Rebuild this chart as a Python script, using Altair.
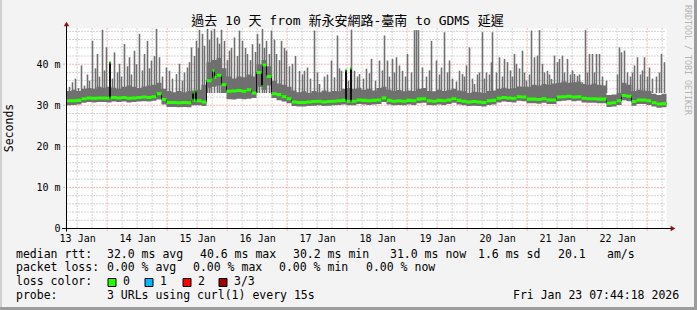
import json
import altair as alt
import pandas as pd

FONT = "DejaVu Sans Mono"
TITLE_FONT = "DejaVu Sans Mono, Noto Sans CJK TC, sans-serif"

TITLE = "過去 10 天 from 新永安網路-臺南 to GDMS 延遲"
DAY_LABELS = ["13 Jan", "14 Jan", "15 Jan", "16 Jan", "17 Jan",
              "18 Jan", "19 Jan", "20 Jan", "21 Jan", "22 Jan"]
Y_TICKS = [0, 10, 20, 30, 40]
FIRST_NOON_H = 4.2617          # hours from 13 Jan 07:44:18 to 13 Jan 12:00
SPAN_H = 240
Y_MAX = 48.7

# median RTT (ms), one value every 2 hours from the start
MEDIAN = [31.1, 31.1, 31.2, 31.6, 31.8, 31.7, 31.8, 31.8, 31.7, 31.9,
          31.8, 31.9, 31.7, 31.8, 31.9, 32.0, 31.9, 32.1, 32.8, 31.4,
          30.7, 30.7, 30.6, 30.7, 30.6, 31.3, 31.1, 30.8, 36.0, 36.4,
          37.3, 35.0, 33.4, 33.5, 33.6, 33.4, 33.8, 33.0, 38.0, 34.6,
          37.0, 32.8, 32.6, 32.1, 31.6, 30.8, 30.7, 30.7, 30.8, 30.9,
          31.0, 30.8, 30.9, 31.0, 31.1, 31.2, 31.0, 31.0, 31.3, 31.2,
          31.1, 31.2, 31.3, 31.8, 31.2, 31.0, 31.1, 31.0, 31.2, 31.1,
          31.5, 31.6, 31.1, 31.0, 31.2, 31.1, 31.3, 31.6, 31.2, 31.0,
          30.8, 30.9, 30.8, 30.7, 31.1, 31.2, 31.7, 31.9, 31.8, 31.7,
          32.1, 32.0, 31.5, 31.5, 31.4, 31.6, 31.3, 31.3, 32.0, 32.1,
          32.2, 32.0, 32.1, 31.7, 31.6, 31.6, 31.5, 31.5, 30.5, 30.6,
          31.1, 32.4, 32.2, 30.9, 31.3, 31.3, 31.1, 30.6, 30.3, 30.4]
# short median excursions (hour, ms)
MED_EXTRA_H = [17.2, 17.6, 50.4, 50.8, 51.6, 58.4, 59.2, 78.4, 111.6, 113.6]
MED_EXTRA_V = [40.5, 31.8, 33.2, 31.2, 33.5, 38.4, 36.8, 39.8, 38.6, 39.0]

# smoke body (ms), same 2-hour steps
LO = [30.0, 30.1, 30.2, 30.6, 30.8, 30.7, 30.8, 30.8, 30.7, 30.9,
      30.8, 30.9, 30.7, 30.8, 30.9, 31.0, 30.9, 31.1, 31.4, 30.2,
      29.6, 29.6, 29.5, 29.6, 29.5, 30.0, 30.0, 29.8, 34.3, 34.5,
      34.8, 33.0, 31.5, 31.4, 31.6, 31.5, 31.6, 31.8, 34.5, 33.8,
      34.8, 31.8, 31.2, 30.9, 30.5, 29.8, 29.7, 29.7, 29.8, 29.9,
      30.0, 29.8, 29.9, 30.0, 30.1, 30.2, 30.0, 30.0, 30.3, 30.2,
      30.1, 30.2, 30.3, 30.8, 30.2, 30.0, 30.1, 30.0, 30.2, 30.1,
      30.5, 30.6, 30.1, 30.0, 30.2, 30.1, 30.3, 30.6, 30.2, 30.0,
      29.8, 29.9, 29.8, 29.7, 30.1, 30.2, 30.7, 30.9, 30.8, 30.7,
      31.1, 31.0, 30.5, 30.5, 30.4, 30.6, 30.3, 30.3, 31.0, 31.1,
      31.2, 31.0, 31.1, 30.7, 30.6, 30.6, 30.5, 30.5, 29.6, 29.7,
      30.1, 31.2, 31.0, 29.9, 30.3, 30.3, 30.1, 29.7, 29.4, 29.5]
HI = [33.5, 33.8, 33.5, 34.0, 34.2, 34.0, 34.5, 34.3, 34.5, 34.3,
      34.0, 34.5, 34.8, 34.5, 34.2, 34.6, 34.8, 35.0, 35.5, 34.0,
      33.5, 33.2, 33.5, 33.2, 33.5, 33.6, 33.8, 35.0, 40.5, 41.0,
      41.5, 39.0, 37.0, 36.5, 37.0, 36.8, 37.5, 37.0, 40.0, 41.0,
      39.5, 36.0, 35.3, 35.0, 34.5, 33.6, 33.2, 33.4, 33.0, 33.5,
      33.2, 33.6, 33.3, 33.5, 33.4, 34.0, 34.2, 34.0, 34.3, 33.8,
      34.0, 33.6, 34.2, 34.5, 33.8, 33.5, 33.7, 33.4, 33.6, 33.5,
      34.0, 34.2, 33.5, 33.4, 33.8, 33.5, 33.7, 34.0, 33.6, 33.4,
      33.0, 33.3, 33.2, 33.0, 33.5, 33.6, 34.0, 34.3, 34.0, 34.2,
      34.6, 34.5, 34.5, 35.0, 34.8, 35.2, 35.0, 35.3, 35.5, 35.8,
      35.5, 35.6, 35.8, 35.2, 35.0, 35.3, 35.0, 34.8, 32.5, 32.6,
      33.0, 35.5, 35.0, 33.5, 33.8, 33.6, 33.5, 32.8, 32.5, 32.8]

# tall smoke spikes (hour, top ms)
SPIKE_H = [2.4, 6.0, 7.2, 10.4, 12.4, 14.4, 16.0, 19.2, 21.2, 23.2, 25.2, 27.2,
           29.2, 31.2, 32.4, 34.0, 36.0, 37.2, 40.0, 41.2, 44.0, 45.2, 48.4, 50.0,
           52.0, 53.2, 54.4, 56.4, 58.0, 59.2, 60.4, 62.0, 63.2, 65.2, 67.2, 69.2,
           70.4, 72.4, 74.4, 76.4, 78.4, 80.0, 82.0, 84.0, 86.0, 88.0, 90.4, 93.2,
           95.2, 96.4, 99.2, 101.2, 103.2, 106.0, 108.4, 110.0, 114.0, 115.2, 117.2,
           120.0, 122.0, 125.2, 127.2, 128.4, 130.4, 132.0, 133.2, 134.4, 136.4,
           139.2, 140.0, 140.8, 142.4, 146.0, 148.0, 150.0, 151.2, 153.2, 156.0,
           157.2, 158.4, 160.0, 161.2, 163.2, 166.4, 168.0, 170.0, 170.4, 173.2,
           175.2, 176.4, 179.2, 180.0, 182.4, 184.0, 186.0, 187.2, 188.4, 189.2,
           190.4, 192.4, 194.0, 195.2, 196.4, 197.2, 198.4, 200.4, 203.2, 204.4,
           206.4, 207.6, 209.2, 210.4, 212.0, 213.2, 221.2, 222.0, 223.2, 224.4,
           227.2, 228.4, 231.2, 233.2, 238.0, 239.2]
SPIKE_TOP = [35.6, 39.7, 34.8, 45.7, 42.5, 48.4, 44.1, 42.9, 40.1, 44.9, 41.7, 43.3,
             47.4, 42.5, 45.7, 40.9, 48.6, 41.7, 39.2, 38.4, 37.6, 40.1, 39.2, 44.1,
             45.7, 48.4, 47.4, 48.6, 48.2, 48.6, 46.5, 48.4, 45.7, 43.3, 46.5, 48.2,
             45.7, 42.5, 44.9, 47.4, 48.6, 45.7, 48.2, 42.5, 45.7, 43.3, 40.1, 38.4,
             38.4, 39.2, 48.2, 35.2, 37.0, 40.9, 47.0, 38.4, 48.4, 38.4, 37.6,
             38.9, 41.3, 40.9, 47.0, 40.9, 41.3, 41.7, 39.7, 38.4, 42.5,
             48.3, 48.3, 48.3, 39.2, 45.7, 40.9, 39.2, 47.8, 40.9, 35.8,
             38.4, 37.6, 39.7, 44.1, 35.2, 47.8, 38.0, 40.5, 47.8, 41.7,
             41.3, 40.5, 42.5, 40.1, 43.3, 36.0, 48.2, 41.7, 42.1, 48.3,
             40.1, 38.4, 36.4, 42.1, 40.5, 41.3, 42.1, 41.3, 37.6, 37.2,
             35.6, 48.3, 42.5, 42.5, 42.5, 42.5, 44.1, 42.9, 43.3, 38.0,
             39.7, 41.7, 41.7, 39.2, 42.5, 40.5]
# shorter smoke spikes between the tall ones (hour, top ms)
SPIKE2_H = [1.2, 3.6, 4.8, 8.4, 9.2, 11.6, 13.2, 15.2, 18.4, 20.4, 22.0, 24.4,
            26.0, 28.0, 30.4, 33.2, 35.2, 38.4, 42.4, 46.4, 47.2, 49.2, 51.2, 52.8,
            55.2, 57.2, 61.2, 64.4, 66.0, 68.4, 71.6, 73.6, 75.6, 77.2, 79.2, 81.2,
            83.2, 85.2, 87.2, 89.2, 91.6, 94.4, 97.6, 100.4, 104.4, 107.2, 109.2,
            112.8, 116.4, 118.8, 121.2, 123.6, 126.4, 129.2, 131.2, 135.6, 138.0,
            144.0, 145.2, 149.2, 152.4, 154.4, 159.2, 162.4, 164.4, 165.2, 167.2,
            169.2, 172.0, 174.4, 177.6, 178.4, 181.2, 183.2, 185.2, 191.2, 193.2,
            199.2, 201.6, 202.4, 205.2, 208.4, 211.2, 214.4, 216.0, 220.4, 225.6,
            226.4, 229.6, 230.4, 232.4, 234.4, 236.0, 237.2]
SPIKE2_TOP = [34.5, 36.5, 34.2, 37.5, 36.0, 39.0, 37.0, 38.5, 36.5, 38.0, 37.0, 39.5,
              37.5, 40.0, 38.5, 39.0, 42.0, 37.0, 36.5, 36.0, 38.0, 40.5, 42.0, 44.0,
              44.5, 46.0, 45.0, 41.0, 44.0, 42.0, 44.0, 41.0, 43.0, 45.0, 44.0, 42.5,
              46.0, 41.0, 44.0, 39.5, 42.0, 37.5, 36.5, 38.0, 37.5, 36.8, 39.0,
              36.0, 37.0, 36.5, 37.8, 36.0, 38.5, 37.0, 38.0, 37.0, 38.0,
              37.0, 38.5, 37.5, 38.0, 36.5, 37.0, 36.5, 37.5, 38.0, 36.5,
              37.5, 38.0, 37.0, 38.5, 37.0, 39.0, 38.0, 37.5, 38.0, 37.5,
              38.0, 37.5, 38.5, 37.5, 38.0, 38.0, 37.0, 36.0, 37.5, 37.0,
              38.0, 37.5, 38.5, 37.0, 36.5, 37.0, 38.0]

STAT_LINE1 = ["median rtt:", "32.0 ms avg", "40.6 ms max", "30.2 ms min",
              "31.0 ms now", "1.6 ms sd", "20.1", "am/s"]
STAT_LINE2 = ["packet loss:", "0.00 % avg", "0.00 % max", "0.00 % min", "0.00 % now"]
LOSS_NAMES = ["0", "1", "2", "3/3"]
LOSS_COLORS = ["#26ff00", "#00b8ff", "#ff0000", "#a00000"]
PROBE_TEXT = "3 URLs using curl(1) every 15s"
STAMP = "Fri Jan 23 07:44:18 2026"

# ---------------------------------------------------------------- layout
W, H = 600, 200
PAD_L, PAD_T = 66.5, 28.5


def px(a):
    return a - PAD_L


def py(a):
    return a - PAD_T


sample_h = [2 * i for i in range(len(MEDIAN))]
smoke = pd.DataFrame({"h": sample_h + [SPAN_H], "lo": LO + [LO[-1]], "hi": HI + [HI[-1]]})
pts = sorted(list(zip(sample_h, MEDIAN)) + list(zip(MED_EXTRA_H, MED_EXTRA_V))
             + [(SPAN_H, MEDIAN[-1])])
med = pd.DataFrame(pts, columns=["h", "m"])
spikes = pd.DataFrame({"h": SPIKE_H + SPIKE2_H, "top": SPIKE_TOP + SPIKE2_TOP})
spikes["base"] = 33.0

noons = [FIRST_NOON_H + 24 * k for k in range(10)]
minor_v = [FIRST_NOON_H + 6 * k for k in range(40) if k % 4 != 2]
major_v = [FIRST_NOON_H + 6 * k for k in range(40) if k % 4 == 2]
grid_v = pd.DataFrame({"h": [v for v in minor_v if v <= SPAN_H]})
grid_vm = pd.DataFrame({"h": [v for v in major_v if v <= SPAN_H]})
grid_h = pd.DataFrame({"y": [v for v in range(2, 49, 2) if v % 10 != 0]})
grid_hm = pd.DataFrame({"y": [10, 20, 30, 40]})

xs = alt.Scale(domain=[0, SPAN_H], nice=False, zero=False)
ys = alt.Scale(domain=[0, Y_MAX], nice=False, zero=False)
label_expr = "%s[round((datum.value - %s) / 24)]" % (json.dumps(DAY_LABELS), FIRST_NOON_H)
AX = alt.Axis(values=noons, labelExpr=label_expr, grid=False, ticks=False, domain=False,
              labelFont=FONT, labelFontSize=10, labelColor="#000", labelPadding=9.5,
              labelBaseline="middle", labelAngle=0, labelFlush=False, labelOverlap=False,
              title=None)
AY = alt.Axis(values=Y_TICKS, labelExpr="datum.value == 0 ? '0' : datum.value + ' m'",
              grid=False, ticks=False, domain=False, labelFont=FONT, labelFontSize=10,
              labelColor="#000", labelPadding=6.5, labelFlush=False, labelOverlap=False,
              title=None)


def X(f):
    return alt.X(f, scale=xs, axis=AX)


def Y(f):
    return alt.Y(f, scale=ys, axis=AY)


GRID_MINOR = "#a8a8a8"
GRID_MAJOR = "#f07070"
SMOKE = "#707070"

layers = []
layers.append(alt.Chart(grid_v).mark_rule(color=GRID_MINOR, strokeDash=[1, 2], strokeWidth=1)
              .encode(x=X("h:Q"), y=alt.value(0), y2=alt.value(H)))
layers.append(alt.Chart(grid_h).mark_rule(color=GRID_MINOR, strokeDash=[1, 2], strokeWidth=1)
              .encode(y=Y("y:Q"), x=alt.value(0), x2=alt.value(W)))
layers.append(alt.Chart(grid_vm).mark_rule(color=GRID_MAJOR, strokeDash=[1, 2], strokeWidth=1)
              .encode(x=X("h:Q"), y=alt.value(0), y2=alt.value(H + 3)))
layers.append(alt.Chart(grid_hm).mark_rule(color=GRID_MAJOR, strokeDash=[1, 2], strokeWidth=1)
              .encode(y=Y("y:Q"), x=alt.value(-3), x2=alt.value(W)))

layers.append(alt.Chart(smoke).mark_area(color=SMOKE, interpolate="step-after", opacity=1)
              .encode(x=X("h:Q"), y=Y("lo:Q"), y2="hi:Q"))
layers.append(alt.Chart(spikes).mark_rule(color=SMOKE, strokeWidth=1.6)
              .encode(x=X("h:Q"), y=Y("top:Q"), y2="base:Q"))
layers.append(alt.Chart(med).mark_line(color="#101010", strokeWidth=1, interpolate="step-after")
              .encode(x=X("h:Q"), y=Y("m:Q")))
layers.append(alt.Chart(med).transform_calculate(a="datum.m - 0.37", b="datum.m + 0.37")
              .mark_area(color="#26ff00", interpolate="step-after", opacity=1)
              .encode(x=X("h:Q"), y=Y("a:Q"), y2="b:Q"))

# axes lines and arrows
one = pd.DataFrame({"k": [0]})
layers.append(alt.Chart(one).mark_rule(color="#000", strokeWidth=1)
              .encode(x=alt.value(px(62)), x2=alt.value(px(672)), y=alt.value(H)))
layers.append(alt.Chart(one).mark_rule(color="#000", strokeWidth=1)
              .encode(x=alt.value(0), y=alt.value(-4), y2=alt.value(H + 3)))
layers.append(alt.Chart(one).mark_point(shape="triangle-right", filled=True, color="#8b1010",
                                         size=30, opacity=1)
              .encode(x=alt.value(px(673)), y=alt.value(H)))
layers.append(alt.Chart(one).mark_point(shape="triangle-up", filled=True, color="#8b1010",
                                         size=30, opacity=1)
              .encode(x=alt.value(0), y=alt.value(py(24))))


def txt(s, ax, ay, size=11.5, align="left", baseline="middle", angle=0, color="#000", font=FONT):
    return (alt.Chart(one)
            .mark_text(text=s, align=align, baseline=baseline, fontSize=size, font=font,
                       color=color, angle=angle)
            .encode(x=alt.value(px(ax)), y=alt.value(py(ay))))


layers.append(txt(TITLE, 347.5, 21, size=13, align="center", font=TITLE_FONT))
layers.append(txt("Seconds", 10, 128, size=11.5, align="center", angle=270))
layers.append(txt("RRDTOOL / TOBI OETIKER", 687, 5, size=8.3, align="left", angle=90,
                  color="#b4b4b4"))

for s, x in zip(STAT_LINE1, [16, 107, 200, 293, 390, 478, 558, 607]):
    layers.append(txt(s, x, 254.7))
for s, x in zip(STAT_LINE2, [16, 107, 193, 279, 366]):
    layers.append(txt(s, x, 268))
layers.append(txt("loss color:", 16, 282.3))
for name, col, sx, lx in zip(LOSS_NAMES, LOSS_COLORS, [108, 145, 183, 219], [123, 160, 198, 234]):
    layers.append(alt.Chart(one).mark_rect(fill=col, stroke="#000", strokeWidth=1)
                  .encode(x=alt.value(px(sx)), x2=alt.value(px(sx + 8)),
                          y=alt.value(py(278.5)), y2=alt.value(py(286.5))))
    layers.append(txt(name, lx, 282.3))
layers.append(txt("probe:", 16, 296))
layers.append(txt(PROBE_TEXT, 107, 296))
layers.append(txt(STAMP, 513, 296))

# image frame
layers.append(alt.Chart(one).mark_rect(fill="#9c9c9c")
              .encode(x=alt.value(px(694)), x2=alt.value(px(697)), y=alt.value(py(0)),
                      y2=alt.value(py(310))))
layers.append(alt.Chart(one).mark_rect(fill="#9c9c9c")
              .encode(x=alt.value(px(0)), x2=alt.value(px(697)), y=alt.value(py(307)),
                      y2=alt.value(py(310))))
layers.append(alt.Chart(one).mark_rect(fill="#d0d0d0")
              .encode(x=alt.value(px(0)), x2=alt.value(px(2)), y=alt.value(py(0)),
                      y2=alt.value(py(307))))

chart = (alt.layer(*layers)
         .properties(width=W, height=H, autosize=alt.AutoSizeParams(type="none"),
                     padding={"left": PAD_L, "top": PAD_T, "right": 697 - PAD_L - W,
                              "bottom": 310 - PAD_T - H})
         .configure(background="#f3f3f3")
         .configure_view(fill="white", stroke=None))

chart.save("out.html", embed_options={"renderer": "svg", "actions": False})
